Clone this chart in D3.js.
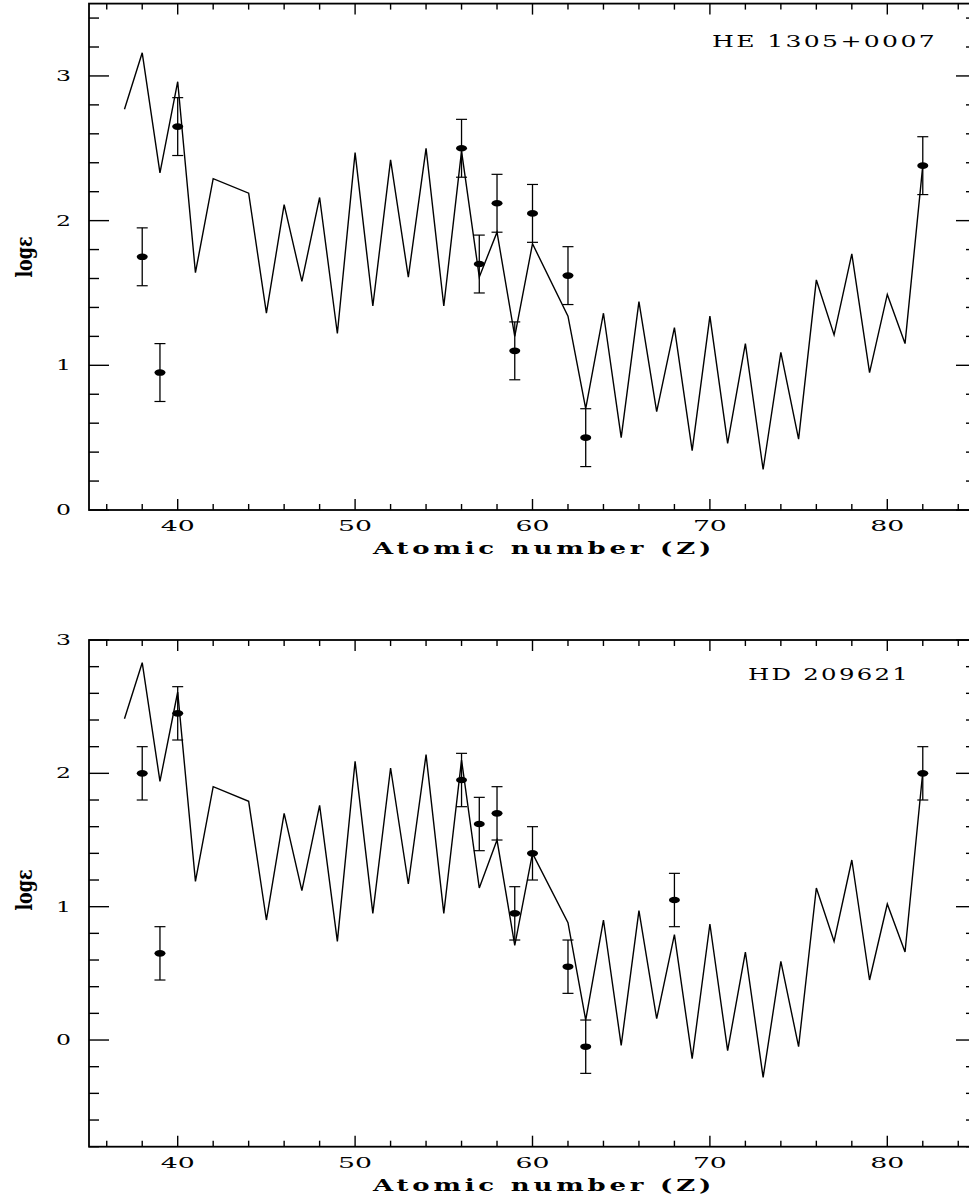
<!DOCTYPE html>
<html>
<head>
<meta charset="utf-8">
<script src="https://cdn.jsdelivr.net/npm/d3@7"></script>
<style>
  body { margin: 0; background: #fff; }
  svg { display: block; }
  text { font-family: "DejaVu Serif", "Liberation Serif", serif; fill: #000; }
</style>
</head>
<body>
<div id="chart"></div>
<script>
// atomic numbers of the model curve (Tc and Pm left out)
var modelZ = [37, 38, 39, 40, 41, 42, 44, 45, 46, 47, 48, 49, 50, 51, 52, 53, 54, 55, 56, 57, 58, 59, 60,
  62, 63, 64, 65, 66, 67, 68, 69, 70, 71, 72, 73, 74, 75, 76, 77, 78, 79, 80, 81, 82];

var heModel = [2.77, 3.16, 2.33, 2.96, 1.64, 2.29, 2.19, 1.36, 2.11, 1.58, 2.16, 1.22, 2.47, 1.41, 2.42, 1.61,
  2.50, 1.41, 2.48, 1.61, 1.92, 1.20, 1.84, 1.34, 0.70, 1.36, 0.50, 1.44, 0.68, 1.26, 0.41, 1.34, 0.46, 1.15,
  0.28, 1.09, 0.49, 1.59, 1.21, 1.77, 0.95, 1.49, 1.15, 2.38];
var heObsZ = [38, 39, 40, 56, 57, 58, 59, 60, 62, 63, 82];
var heObs = [1.75, 0.95, 2.65, 2.50, 1.70, 2.12, 1.10, 2.05, 1.62, 0.50, 2.38];
var heErr = [0.2, 0.2, 0.2, 0.2, 0.2, 0.2, 0.2, 0.2, 0.2, 0.2, 0.2];

var hdModel = [2.41, 2.83, 1.94, 2.61, 1.19, 1.90, 1.79, 0.90, 1.70, 1.12, 1.76, 0.74, 2.09, 0.95, 2.04, 1.17,
  2.14, 0.95, 2.10, 1.14, 1.50, 0.71, 1.40, 0.88, 0.15, 0.90, -0.04, 0.97, 0.16, 0.79, -0.14, 0.87, -0.08, 0.66,
  -0.28, 0.59, -0.05, 1.14, 0.74, 1.35, 0.45, 1.02, 0.66, 2.01];
var hdObsZ = [38, 39, 40, 56, 57, 58, 59, 60, 62, 63, 68, 82];
var hdObs = [2.00, 0.65, 2.45, 1.95, 1.62, 1.70, 0.95, 1.40, 0.55, -0.05, 1.05, 2.00];
var hdErr = [0.2, 0.2, 0.2, 0.2, 0.2, 0.2, 0.2, 0.2, 0.2, 0.2, 0.2, 0.2];

var xTicks = [40, 50, 60, 70, 80];

var width = 969, height = 1196;

var svg = d3.select('#chart')
  .append('svg')
  .attr('width', width)
  .attr('height', height);

svg.append('rect').attr('width', width).attr('height', height).attr('fill', '#fff');

function drawPanel(opts) {
  var x = d3.scaleLinear().domain([35, 85]).range([89, 976]);
  var y = d3.scaleLinear().domain(opts.yDomain).range([opts.bottom, opts.top]);
  var g = svg.append('g');

  // minor + major ticks, all pointing inward
  var xMinor = d3.range(36, 85, 2).filter(function(v) { return v % 10 !== 0; });
  var yMinor = d3.range(Math.ceil(opts.yDomain[0] * 5), Math.floor(opts.yDomain[1] * 5) + 1)
    .map(function(k) { return k / 5; })
    .filter(function(v) { return Math.abs(v - Math.round(v)) > 1e-6; });
  var yMajor = d3.range(Math.ceil(opts.yDomain[0]), Math.floor(opts.yDomain[1]) + 1);

  function tick(x1, y1, x2, y2) {
    g.append('line').attr('x1', x1).attr('y1', y1).attr('x2', x2).attr('y2', y2)
      .attr('stroke', '#000').attr('stroke-width', 1.4);
  }
  xMinor.forEach(function(v) {
    tick(x(v), opts.bottom, x(v), opts.bottom - 6);
    tick(x(v), opts.top, x(v), opts.top + 6);
  });
  xTicks.forEach(function(v) {
    tick(x(v), opts.bottom, x(v), opts.bottom - 11);
    tick(x(v), opts.top, x(v), opts.top + 11);
  });
  yMinor.forEach(function(v) {
    tick(x(35), y(v), x(35) + 10, y(v));
    tick(x(85), y(v), x(85) - 10, y(v));
  });
  yMajor.forEach(function(v) {
    tick(x(35), y(v), x(35) + 20, y(v));
    tick(x(85), y(v), x(85) - 20, y(v));
  });

  g.append('rect')
    .attr('x', x(35)).attr('y', opts.top)
    .attr('width', x(85) - x(35)).attr('height', opts.bottom - opts.top)
    .attr('fill', 'none').attr('stroke', '#000').attr('stroke-width', 1.8);

  // tick labels
  xTicks.forEach(function(v) {
    g.append('text')
      .attr('x', x(v)).attr('y', opts.bottom + 21)
      .attr('text-anchor', 'middle')
      .attr('font-size', 14)
      .attr('textLength', 34).attr('lengthAdjust', 'spacingAndGlyphs')
      .text(v);
  });
  yMajor.forEach(function(v) {
    g.append('text')
      .attr('x', 63.5).attr('y', y(v) + 5)
      .attr('text-anchor', 'middle')
      .attr('font-size', 14)
      .attr('textLength', 15).attr('lengthAdjust', 'spacingAndGlyphs')
      .text(v);
  });

  g.append('text')
    .attr('x', 544).attr('y', opts.bottom + 44)
    .attr('text-anchor', 'middle')
    .attr('font-size', 17).attr('font-weight', 'bold')
    .attr('letter-spacing', 2.5)
    .attr('textLength', 342).attr('lengthAdjust', 'spacingAndGlyphs')
    .text('Atomic number (Z)');

  g.append('text')
    .attr('transform', 'translate(32,' + opts.labelY + ') rotate(-90)')
    .attr('text-anchor', 'middle')
    .attr('font-size', 22).attr('font-weight', 'bold')
    .attr('textLength', 41).attr('lengthAdjust', 'spacingAndGlyphs')
    .text('log\u03b5');

  g.append('text')
    .attr('x', opts.nameX).attr('y', opts.nameY)
    .attr('font-size', 16)
    .attr('letter-spacing', 1.5)
    .attr('textLength', opts.nameLen).attr('lengthAdjust', 'spacingAndGlyphs')
    .text(opts.name);

  // model curve
  var line = d3.line()
    .x(function(d, i) { return x(modelZ[i]); })
    .y(function(d) { return y(d); });
  g.append('path')
    .datum(opts.model)
    .attr('d', line)
    .attr('fill', 'none')
    .attr('stroke', '#000')
    .attr('stroke-width', 1.4)
    .attr('stroke-linejoin', 'miter');

  // observed points with error bars
  var obs = opts.obsZ.map(function(z, i) {
    return { z: z, v: opts.obs[i], e: opts.err[i] };
  });
  var pts = g.selectAll('.obs').data(obs).enter().append('g').attr('class', 'obs');
  pts.append('line')
    .attr('x1', function(d) { return x(d.z); }).attr('x2', function(d) { return x(d.z); })
    .attr('y1', function(d) { return y(d.v - d.e); }).attr('y2', function(d) { return y(d.v + d.e); })
    .attr('stroke', '#000').attr('stroke-width', 1.3);
  [-1, 1].forEach(function(s) {
    pts.append('line')
      .attr('x1', function(d) { return x(d.z) - 5.5; }).attr('x2', function(d) { return x(d.z) + 5.5; })
      .attr('y1', function(d) { return y(d.v + s * d.e); }).attr('y2', function(d) { return y(d.v + s * d.e); })
      .attr('stroke', '#000').attr('stroke-width', 1.2);
  });
  pts.append('ellipse')
    .attr('cx', function(d) { return x(d.z); })
    .attr('cy', function(d) { return y(d.v); })
    .attr('rx', 5.5).attr('ry', 3.3)
    .attr('fill', '#000');
}

drawPanel({
  yDomain: [0, 3.5], top: 3.6, bottom: 510, labelY: 257,
  model: heModel, obsZ: heObsZ, obs: heObs, err: heErr,
  name: 'HE 1305+0007', nameX: 712, nameY: 47, nameLen: 225
});

drawPanel({
  yDomain: [-0.8, 3], top: 640, bottom: 1146.7, labelY: 890,
  model: hdModel, obsZ: hdObsZ, obs: hdObs, err: hdErr,
  name: 'HD 209621', nameX: 748, nameY: 680, nameLen: 162
});
</script>
</body>
</html>
